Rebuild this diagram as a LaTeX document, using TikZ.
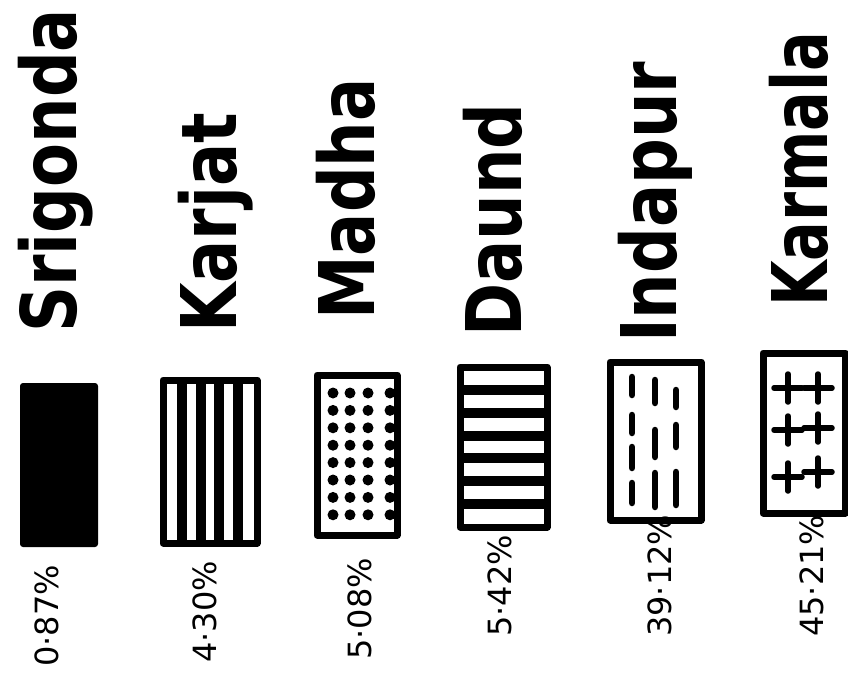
\documentclass[tikz,border=0pt]{standalone}
\usepackage{fontspec}
\setmainfont{DejaVu Sans}
\usetikzlibrary{calc}
\tikzset{
	taluk/.style    ={rotate=90, yscale=1.2, anchor=west, inner sep=0pt, font=\fontsize{64}{64}\selectfont\bfseries},
	share/.style    ={rotate=90, anchor=west, inner sep=0pt, font=\fontsize{32}{32}\selectfont},
	legbox/.style   ={draw=black, line width=7pt, line join=round},
	hatch/.style    ={line width=10pt},
	dashbar/.style  ={line width=6.5pt, line cap=round},
	crossbar/.style ={line width=5.5pt, line cap=round},
}
\begin{document}
\begin{tikzpicture}[x=1pt, y=-1pt]
	\useasboundingbox (0,0) rectangle (848,678);
	% srigonda
	\fill[rounded corners=3pt] (20,383) rectangle (98,547);
	\node[taluk] (srigonda) at (56,333) {Srigonda};
	\node[share] (psrigonda) at (47,667) {0·87\%};
	% karjat
	\draw[legbox] (163,380) rectangle (257,543);
	\foreach \i in {1,...,4}
		\draw[hatch] ({163+\i*94/5},380) -- ({163+\i*94/5},543);
	\node[taluk] (karjat) at (216,333) {Karjat};
	\node[share] (pkarjat) at (205,663) {4·30\%};
	% madha
	\draw[legbox] (317,375) rectangle (397,535);
	\foreach \i in {0,...,7}
		\foreach \x in {333,350,368,390}
			\fill (\x,{393+\i*17.4}) circle (5.5);
	\node[taluk] (madha) at (346,320) {Madha};
	\node[share] (pmadha) at (360,660) {5·08\%};
	% daund
	\draw[legbox] (460,367) rectangle (547,527);
	\foreach \i in {1,...,6}
		\draw[hatch] (460,{367+\i*160/7}) -- (547,{367+\i*160/7});
	\node[taluk] (daund) at (493,337) {Daund};
	\node[share] (pdaund) at (500,637) {5·42\%};
	% indapur
	\draw[legbox] (610,362) rectangle (701,520);
	\foreach \x/\a/\b in {632/377/395, 632/415/433, 632/447/468, 632/483/503,
		655/380/403, 655/430/457, 655/473/507,
		676/390/407, 676/425/447, 676/472/505}
		\draw[dashbar] (\x,\a) -- (\x,\b);
	\node[taluk] (indapur) at (655,343) {Indapur};
	\node[share] (pindapur) at (660,637) {39·12\%};
	% karmala
	\draw[legbox] (763,353) rectangle (845,513);
	\foreach \x/\y in {788/388, 818/388, 788/430, 818/428, 788/477, 818/472} {
		\draw[crossbar] ({\x-14},\y) -- ({\x+14},\y);
		\draw[crossbar] (\x,{\y-14}) -- (\x,{\y+14});
	}
	\node[taluk, xscale=0.92] (karmala) at (799,307) {Karmala};
	\node[share] (pkarmala) at (812,637) {45·21\%};
\end{tikzpicture}
\end{document}
